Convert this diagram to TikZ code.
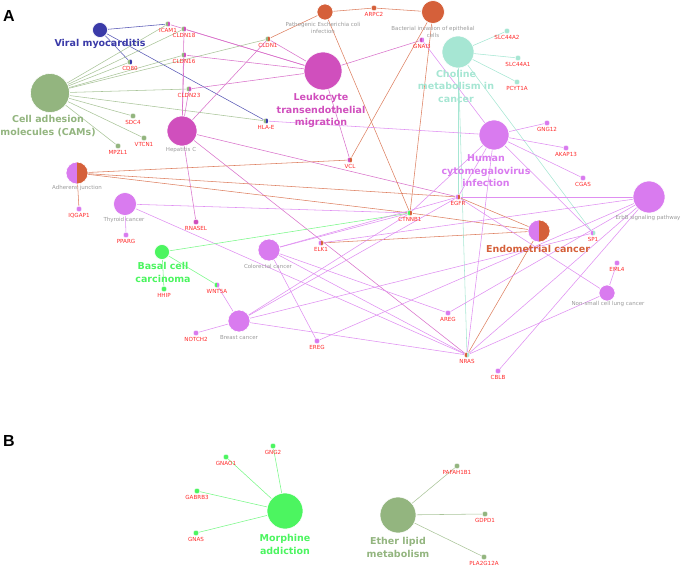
\documentclass[tikz,border=0pt]{standalone}
\usepackage{fontspec}
\setmainfont{DejaVu Sans}
\newfontfamily\panelfont{Liberation Sans}
\usetikzlibrary{positioning,backgrounds}

\definecolor{vmblue}{HTML}{3A3AA8}
\definecolor{sage}{HTML}{93B57F}
\definecolor{magen}{HTML}{D04FBD}
\definecolor{lilac}{HTML}{D97BEF}
\definecolor{rust}{HTML}{D5603A}
\definecolor{mint}{HTML}{A6E6D3}
\definecolor{lime}{HTML}{4CF560}
\definecolor{genered}{HTML}{FF2A2A}
\definecolor{termgray}{HTML}{9A9A9A}

\tikzset{
  term/.style={circle, draw=white, line width=0.6pt, inner sep=0pt, minimum size=#1},
  term/.default=20pt,
  gene/.style={circle, draw=white, line width=0.3pt, inner sep=0pt, minimum size=5.5pt},
  genetxt/.style={text=genered, font=\fontsize{5.6}{6}\selectfont, inner sep=0.5pt, label distance=0.8pt},
  smalltxt/.style={text=termgray, font=\fontsize{5.5}{7}\selectfont, inner sep=0pt, align=center},
  bigtxt/.style={text=#1, font=\fontsize{9.5}{12.5}\selectfont\bfseries, inner sep=0pt, align=center},
  halves/.style 2 args={path picture={
      \fill[#1] (path picture bounding box.south west) rectangle (path picture bounding box.north);
      \fill[#2] (path picture bounding box.south) rectangle (path picture bounding box.north east);}},
  lnk/.style={line width=0.55pt, draw=#1},
}

\begin{document}
\begin{tikzpicture}[x=1pt, y=-1pt]
  \useasboundingbox (0,0) rectangle (685,569);
  % Panel letters
  \node[font=\panelfont\bfseries\fontsize{16}{16}\selectfont] (pa) at (9,16) {A};
  \node[font=\panelfont\bfseries\fontsize{16}{16}\selectfont] (pb) at (9,441) {B};

  % Pathway terms, panel A
  \node[term=15pt, fill=vmblue] (vmyo) at (100,30) {};
  \node[term=39pt, fill=sage] (cams) at (50,93) {};
  \node[term=16pt, fill=rust] (ecoli) at (325,12) {};
  \node[term=23pt, fill=rust] (binv) at (433,12) {};
  \node[term=32pt, fill=mint] (chol) at (458,52) {};
  \node[term=38pt, fill=magen] (leuk) at (323,71) {};
  \node[term=30pt, fill=magen] (hepc) at (182,131) {};
  \node[term=30pt, fill=lilac] (hcmv) at (494,135) {};
  \node[term=22pt, halves={lilac}{rust}] (adh) at (77,173) {};
  \node[term=23pt, fill=lilac] (thyr) at (125,204) {};
  \node[term=15pt, fill=lime] (basal) at (162,252) {};
  \node[term=22pt, fill=lilac] (colo) at (269,250) {};
  \node[term=22pt, fill=lilac] (brst) at (239,321) {};
  \node[term=32pt, fill=lilac] (erbb) at (649,197) {};
  \node[term=16pt, fill=lilac] (nsclc) at (607,293) {};
  \node[term=22pt, halves={lilac}{rust}] (endo) at (539,231) {};

  % Term captions
  \node[bigtxt=vmblue] (vmyo-t) at (100,44) {Viral myocarditis};
  \node[bigtxt=sage] (cams-t) at (48,126) {Cell adhesion\\molecules (CAMs)};
  \node[bigtxt=magen] (leuk-t) at (321,110.5) {Leukocyte\\transendothelial\\migration};
  \node[bigtxt=mint] (chol-t) at (456,86) {Choline\\metabolism in\\cancer};
  \node[bigtxt=lilac] (hcmv-t) at (486,171) {Human\\cytomegalovirus\\infection};
  \node[bigtxt=lime] (basal-t) at (163,272.5) {Basal cell\\carcinoma};
  \node[bigtxt=rust] (endo-t) at (538,249) {Endometrial cancer};
  \node[smalltxt] (ecoli-t) at (323,27.5) {Pathogenic Escherichia coli\\infection};
  \node[smalltxt] (binv-t) at (433,31.5) {Bacterial invasion of epithelial\\cells};
  \node[smalltxt] (hepc-t) at (181,150) {Hepatitis C};
  \node[smalltxt] (adh-t) at (77,188) {Adherens junction};
  \node[smalltxt] (thyr-t) at (124,220) {Thyroid cancer};
  \node[smalltxt] (colo-t) at (268,266) {Colorectal cancer};
  \node[smalltxt] (brst-t) at (239,338) {Breast cancer};
  \node[smalltxt] (erbb-t) at (648,218) {ErbB signaling pathway};
  \node[smalltxt] (nsclc-t) at (608,304) {Non-small cell lung cancer};

  % Genes, panel A
  \node[gene, halves={sage}{magen}, label={[genetxt]below:ICAM1}] (icam1) at (168,24) {};
  \node[gene, halves={sage}{magen}, label={[genetxt]below:CLDN18}] (cldn18) at (184,29) {};
  \node[gene, halves={sage}{vmblue}, label={[genetxt]below:CD80}] (cd80) at (130,62) {};
  \node[gene, halves={sage}{magen}, label={[genetxt]below:CLDN16}] (cldn16) at (184,55) {};
  \node[gene, halves={sage}{magen}, label={[genetxt]below:CLDN23}] (cldn23) at (189,89) {};
  \node[gene, fill=sage, label={[genetxt]below:SDC4}] (sdc4) at (133,116) {};
  \node[gene, fill=sage, label={[genetxt]below:VTCN1}] (vtcn1) at (144,138) {};
  \node[gene, fill=sage, label={[genetxt]below:MPZL1}] (mpzl1) at (118,146) {};
  \node[gene, halves={sage}{rust}, label={[genetxt]below:CLDN1}] (cldn1) at (268,39) {};
  \node[gene, halves={sage}{vmblue}, label={[genetxt]below:HLA-E}] (hlae) at (266,121) {};
  \node[gene, fill=rust, label={[genetxt]below:ARPC2}] (arpc2) at (374,8) {};
  \node[gene, halves={magen}{lilac}, label={[genetxt]below:GNAI3}] (gnai3) at (422,40) {};
  \node[gene, halves={magen}{rust}, label={[genetxt]below:VCL}] (vcl) at (350,160) {};
  \node[gene, fill=mint, label={[genetxt]below:SLC44A2}] (slc2) at (507,31) {};
  \node[gene, fill=mint, label={[genetxt]below:SLC44A1}] (slc1) at (518,58) {};
  \node[gene, fill=mint, label={[genetxt]below:PCYT1A}] (pcyt) at (517,82) {};
  \node[gene, fill=lilac, label={[genetxt]below:GNG12}] (gng12) at (547,123) {};
  \node[gene, fill=lilac, label={[genetxt]below:AKAP13}] (akap) at (566,148) {};
  \node[gene, fill=lilac, label={[genetxt]below:CGAS}] (cgas) at (583,178) {};
  \node[gene, halves={lilac}{rust}, label={[genetxt]below:EGFR}] (egfr) at (458,197) {};
  \node[gene, halves={lime}{rust}, label={[genetxt]below:CTNNB1}] (ctnnb1) at (410,213) {};
  \node[gene, halves={lilac}{rust}, label={[genetxt]below:ELK1}] (elk1) at (321,243) {};
  \node[gene, halves={lilac}{mint}, label={[genetxt]below:SP1}] (sp1) at (593,233) {};
  \node[gene, fill=lilac, label={[genetxt]below:EML4}] (eml4) at (617,263) {};
  \node[gene, fill=lilac, label={[genetxt]below:AREG}] (areg) at (448,313) {};
  \node[gene, fill=lilac, label={[genetxt]below:EREG}] (ereg) at (317,341) {};
  \node[gene, halves={rust}{mint}, label={[genetxt]below:NRAS}] (nras) at (467,355) {};
  \node[gene, fill=lilac, label={[genetxt]below:CBLB}] (cblb) at (498,371) {};
  \node[gene, fill=lilac, label={[genetxt]below:NOTCH2}] (notch2) at (196,333) {};
  \node[gene, fill=lilac, label={[genetxt]below:IQGAP1}] (iqgap) at (79,209) {};
  \node[gene, fill=lilac, label={[genetxt]below:PPARG}] (pparg) at (126,235) {};
  \node[gene, fill=magen, label={[genetxt]below:RNASEL}] (rnasel) at (196,222) {};
  \node[gene, fill=lime, label={[genetxt]below:HHIP}] (hhip) at (164,289) {};
  \node[gene, halves={lime}{lilac}, label={[genetxt]below:WNT5A}] (wnt5a) at (217,285) {};

  % Panel B
  \node[term=36pt, fill=lime] (morph) at (285,511) {};
  \node[term=36pt, fill=sage] (ether) at (398,515) {};
  \node[bigtxt=lime] (morph-t) at (285,544.5) {Morphine\\addiction};
  \node[bigtxt=sage] (ether-t) at (398,547.5) {Ether lipid\\metabolism};
  \node[gene, fill=lime, label={[genetxt]below:GNAO1}] (gnao1) at (226,457) {};
  \node[gene, fill=lime, label={[genetxt]below:GNG2}] (gng2) at (273,446) {};
  \node[gene, fill=lime, label={[genetxt]below:GABRB3}] (gabrb3) at (197,491) {};
  \node[gene, fill=lime, label={[genetxt]below:GNAS}] (gnas) at (196,533) {};
  \node[gene, fill=sage, label={[genetxt]below:PAFAH1B1}] (pafah) at (457,466) {};
  \node[gene, fill=sage, label={[genetxt]below:GDPD1}] (gdpd1) at (485,514) {};
  \node[gene, fill=sage, label={[genetxt]below:PLA2G12A}] (pla2) at (484,557) {};

  % Links
  \begin{scope}[on background layer]
    \foreach \g in {icam1,cd80,hlae} \draw[lnk=vmblue!85] (vmyo) -- (\g);
    \foreach \g in {icam1,cldn18,cd80,cldn16,cldn1,cldn23,hlae,sdc4,vtcn1,mpzl1} \draw[lnk=sage!80] (cams) -- (\g);
    \foreach \g in {icam1,cldn18,cldn16,cldn1,cldn23,gnai3,vcl} \draw[lnk=magen!80] (leuk) -- (\g);
    \foreach \g in {cldn18,cldn16,cldn1,cldn23,rnasel,egfr,nras} \draw[lnk=magen!80] (hepc) -- (\g);
    \foreach \g in {arpc2,cldn1,ctnnb1} \draw[lnk=rust!80] (ecoli) -- (\g);
    \foreach \g in {arpc2,vcl,ctnnb1} \draw[lnk=rust!80] (binv) -- (\g);
    \foreach \g in {slc2,slc1,pcyt,egfr,nras,sp1} \draw[lnk=mint] (chol) -- (\g);
    \foreach \g in {iqgap,vcl,ctnnb1,egfr} \draw[lnk=rust!80] (adh) -- (\g);
    \foreach \g in {ctnnb1,egfr,elk1,nras} \draw[lnk=rust!80] (endo) -- (\g);
    \foreach \g in {pparg,ctnnb1,nras} \draw[lnk=lilac!85] (thyr) -- (\g);
    \foreach \g in {hhip,wnt5a,ctnnb1} \draw[lnk=lime!75] (basal) -- (\g);
    \foreach \g in {ctnnb1,egfr,areg,ereg,nras} \draw[lnk=lilac!85] (colo) -- (\g);
    \foreach \g in {wnt5a,notch2,ctnnb1,egfr,sp1,nras} \draw[lnk=lilac!85] (brst) -- (\g);
    \foreach \g in {gng12,akap,cgas,gnai3,hlae,egfr,ctnnb1,nras,sp1} \draw[lnk=lilac!85] (hcmv) -- (\g);
    \foreach \g in {egfr,elk1,areg,ereg,nras,cblb} \draw[lnk=lilac!85] (erbb) -- (\g);
    \foreach \g in {eml4,egfr,nras} \draw[lnk=lilac!85] (nsclc) -- (\g);
    \foreach \g in {gnao1,gng2,gabrb3,gnas} \draw[lnk=lime!75] (morph) -- (\g);
    \foreach \g in {pafah,gdpd1,pla2} \draw[lnk=sage!80] (ether) -- (\g);
  \end{scope}
\end{tikzpicture}
\end{document}
